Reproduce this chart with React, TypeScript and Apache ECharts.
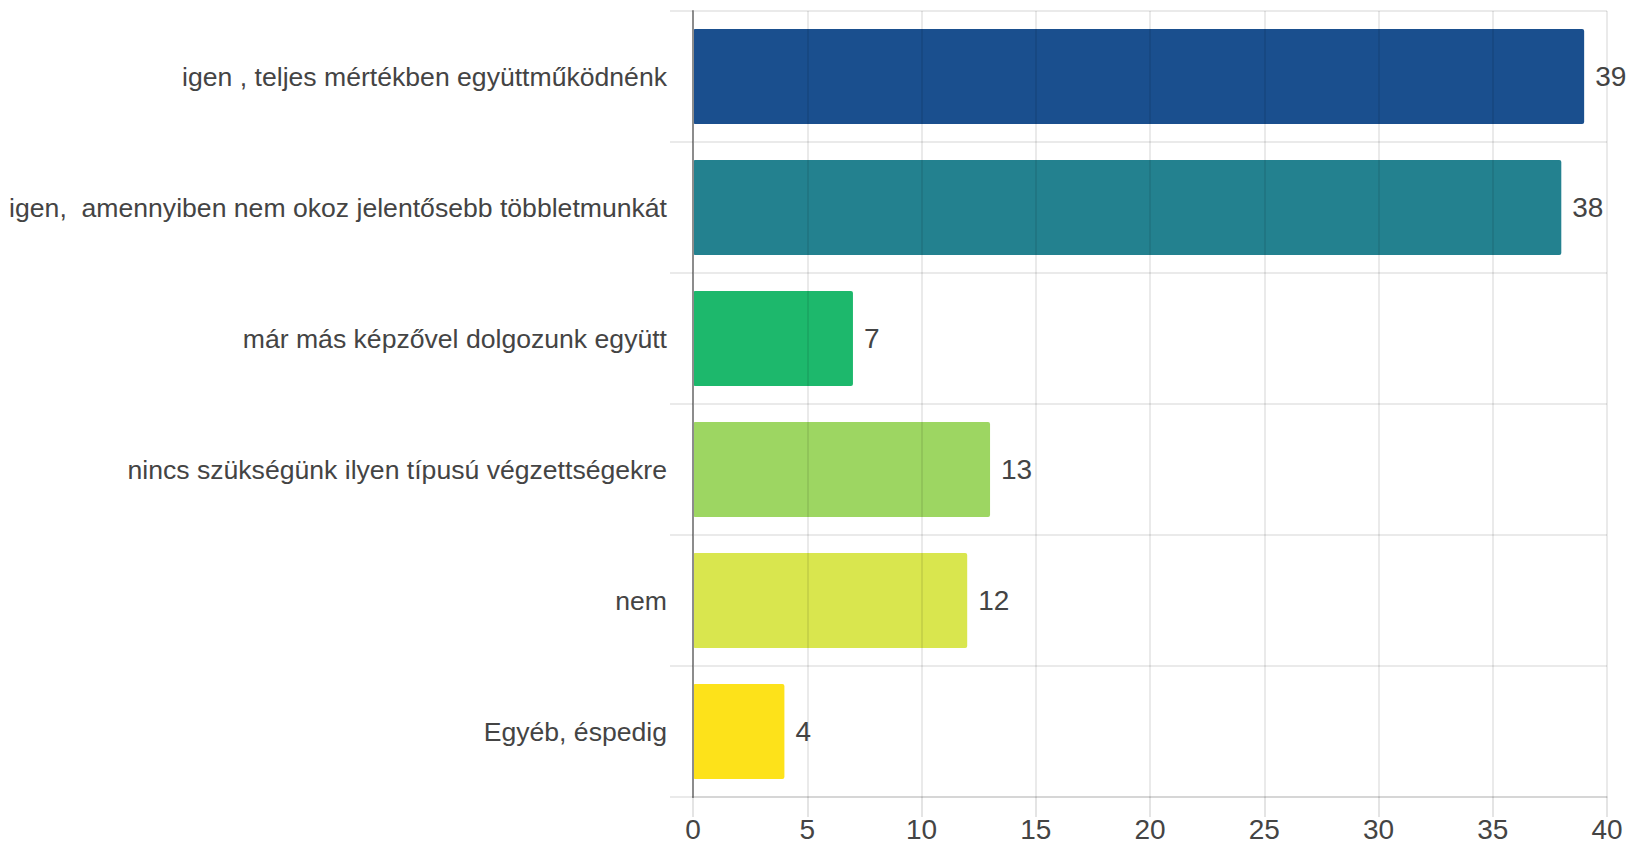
import React, { useEffect, useRef } from "react";
import * as echarts from "echarts";

const categories = [
  "igen , teljes mértékben együttműködnénk",
  "igen,  amennyiben nem okoz jelentősebb többletmunkát",
  "már más képzővel dolgozunk együtt",
  "nincs szükségünk ilyen típusú végzettségekre",
  "nem",
  "Egyéb, éspedig",
];
const values = [39, 38, 7, 13, 12, 4];
const barColors = ["#1a4f8e", "#23818f", "#1db86c", "#9dd662", "#d9e64e", "#fde21a"];
const xTicks = { min: 0, max: 40, interval: 5 };

export default function App() {
  const ref = useRef<HTMLDivElement>(null);
  useEffect(() => {
    if (!ref.current) return;
    const chart = echarts.init(ref.current, null, { renderer: "svg" });
    const font = "'Liberation Sans', Arial, sans-serif";
    const grid = "rgba(0,0,0,0.11)";
    chart.setOption({
      animation: false,
      grid: { left: 693, right: 24, top: 11, bottom: 48, containLabel: false },
      xAxis: {
        type: "value",
        min: xTicks.min,
        max: xTicks.max,
        interval: xTicks.interval,
        z: 3,
        axisLine: { show: true, lineStyle: { color: grid, width: 1.5 } },
        axisTick: { show: true, length: 20, lineStyle: { color: "rgba(0,0,0,0.14)", width: 1.5 } },
        axisLabel: { color: "#444", fontSize: 28, fontFamily: font, margin: 18 },
        splitLine: { show: true, lineStyle: { color: grid, width: 1.5 } },
      },
      yAxis: {
        type: "category",
        data: categories,
        inverse: true,
        z: 3,
        axisLine: { show: true, lineStyle: { color: "#8c8c8c", width: 2 } },
        axisTick: { show: true, length: 23, lineStyle: { color: grid, width: 1.5 } },
        axisLabel: { color: "#444", fontSize: 26.6, fontFamily: font, margin: 26 },
        splitLine: { show: true, lineStyle: { color: grid, width: 1.5 } },
      },
      series: [
        {
          type: "bar",
          data: values.map((v, i) => ({ value: v, itemStyle: { color: barColors[i] } })),
          barWidth: 95,
          itemStyle: { borderRadius: 2 },
          label: {
            show: true,
            position: "right",
            distance: 11,
            color: "#444",
            fontSize: 28,
            fontFamily: font,
          },
        },
      ],
    });
    return () => chart.dispose();
  }, []);
  return (
    <div
      ref={ref}
      style={{ position: "fixed", left: 0, top: 0, width: 1631, height: 845, background: "#fff" }}
    />
  );
}
